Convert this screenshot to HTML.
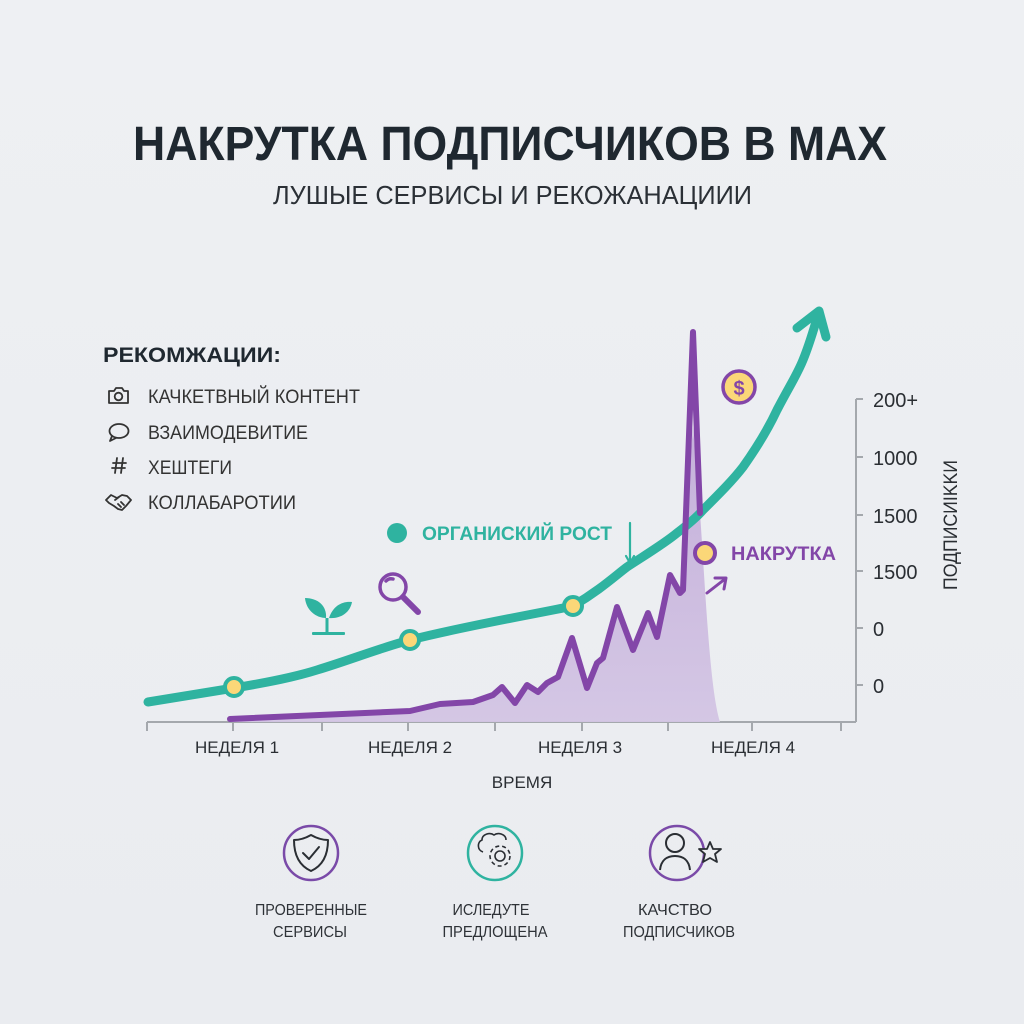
<!DOCTYPE html>
<html><head><meta charset="utf-8"><style>
html,body{margin:0;padding:0;background:#eceef1;}
svg{display:block;}
text{font-family:"Liberation Sans","Noto Sans CJK SC",sans-serif;}
</style></head><body>
<svg width="1024" height="1024" viewBox="0 0 1024 1024" xmlns="http://www.w3.org/2000/svg">
<defs>
<linearGradient id="bg" x1="0" y1="0" x2="0" y2="1"><stop offset="0" stop-color="#eef0f3"/><stop offset="1" stop-color="#eaecf0"/></linearGradient>
<linearGradient id="pf" x1="0" y1="0" x2="0" y2="1"><stop offset="0" stop-color="#c3add9"/><stop offset="1" stop-color="#d3c5e4"/></linearGradient>
</defs>
<rect width="1024" height="1024" fill="url(#bg)"/>

<!-- Title -->
<text x="133" y="160" font-size="48" font-weight="bold" fill="#1f2830" textLength="754" lengthAdjust="spacingAndGlyphs">НАКРУТКА ПОДПИСЧИКОВ В MAX</text>
<text x="273" y="204" font-size="26" fill="#2b3036" textLength="479" lengthAdjust="spacingAndGlyphs">ЛУШЫЕ СЕРВИСЫ И РЕКОЖАНАЦИИИ</text>

<!-- Recommendations -->
<text x="103" y="362" font-size="21" font-weight="bold" fill="#1f2830" textLength="178" lengthAdjust="spacingAndGlyphs">РЕКОМЖАЦИИ:</text>
<g fill="#333" font-size="19">
<text x="148" y="403" textLength="212" lengthAdjust="spacingAndGlyphs">КАЧКЕТВНЫЙ КОНТЕНТ</text>
<text x="148" y="439" textLength="160" lengthAdjust="spacingAndGlyphs">ВЗАИМОДЕВИТИЕ</text>
<text x="148" y="474" textLength="84" lengthAdjust="spacingAndGlyphs">ХЕШТЕГИ</text>
<text x="148" y="509" textLength="148" lengthAdjust="spacingAndGlyphs">КОЛЛАБАРОТИИ</text>
</g>
<!-- list icons -->
<g fill="none" stroke="#333" stroke-width="1.8" stroke-linejoin="round" stroke-linecap="round">
<path d="M109 391 h5 l2 -3 h6 l2 3 h4 v12 h-19 z"/>
<circle cx="118.5" cy="396.5" r="3.8"/>
<ellipse cx="119" cy="431" rx="9.5" ry="7"/>
<path d="M112 436 l-2 5 l6 -3"/>
<path d="M117 458 l-2 15 M123 458 l-2 15 M113 463 h13 M112 468 h13"/>
<path d="M106 500 l5 -5 l6 3 l5 -3 l5 1 l4 4 l-5 6 l-4 4 l-4 -1 l-4 -3 l-5 -3 z M115 500 l4 -3 M118 504 l3 3 M121 502 l3 3"/>
</g>

<!-- Axes -->
<g stroke="#a4a8ad" stroke-width="2" fill="none">
<line x1="147" y1="722" x2="856" y2="722"/>
<line x1="856" y1="399" x2="856" y2="722"/>
<path d="M147 722 v9 M233 722 v9 M322 722 v9 M408 722 v9 M495 722 v9 M582 722 v9 M668 722 v9 M752 722 v9 M841 722 v9"/>
<path d="M856 399 h7 M856 457 h7 M856 515 h7 M856 571 h7 M856 628 h7 M856 685 h7"/>
</g>
<g fill="#2a2e33" font-size="20">
<text x="873" y="407">200+</text>
<text x="873" y="465">1000</text>
<text x="873" y="523">1500</text>
<text x="873" y="579">1500</text>
<text x="873" y="636">0</text>
<text x="873" y="693">0</text>
</g>
<text transform="translate(957,525) rotate(-90)" text-anchor="middle" font-size="19" fill="#2a2e33" textLength="130" lengthAdjust="spacingAndGlyphs">ПОДПИСИIKKИ</text>
<g fill="#2a2e33" font-size="17" text-anchor="middle">
<text x="237" y="753">НЕДЕЛЯ 1</text>
<text x="410" y="753">НЕДЕЛЯ 2</text>
<text x="580" y="753">НЕДЕЛЯ 3</text>
<text x="753" y="753">НЕДЕЛЯ 4</text>
<text x="522" y="788">ВРЕМЯ</text>
</g>

<!-- Purple fill -->
<path d="M230 720 L410 711 L440 704 L473 702 L493 695 L502 687 L515 703 L527 685 L538 692 L547 683 L558 677 L572 638 L587 688 L597 663 L603 658 L617 607 L633 650 L648 613 L657 637 L670 575 L680 593 L693 427 L700 513 C706 600 710 690 720 722 L230 722 Z" fill="url(#pf)" opacity="0.95"/>

<!-- Teal curve -->
<path d="M148 702 L234 688 C270 682 295 677 317 670 C350 660 380 648 410 640 C470 625 530 615 573 606 C600 590 615 576 627 567 C650 552 665 543 677 533 C690 523 697 517 703 510 C720 493 733 480 743 467 C760 443 770 425 777 410 C790 385 797 375 803 360 C810 343 814 328 818 315" fill="none" stroke="#2fb3a0" stroke-width="9" stroke-linecap="round" stroke-linejoin="round"/>
<path d="M797 328 L819 311 L826 337" fill="none" stroke="#2fb3a0" stroke-width="9" stroke-linecap="round" stroke-linejoin="round"/>

<!-- Purple line -->
<path d="M230 719 L410 711 L440 704 L473 702 L493 695 L502 687 L515 703 L527 685 L538 692 L547 683 L558 677 L572 638 L587 688 L597 663 L603 658 L617 607 L633 650 L648 613 L657 637 L670 575 L680 593 L683 590 L693 332 L700 513" fill="none" stroke="#8346a8" stroke-width="6" stroke-linecap="round" stroke-linejoin="round"/>

<!-- markers -->
<g stroke="#2fb3a0" stroke-width="4" fill="#fbd778">
<circle cx="234" cy="687" r="9"/>
<circle cx="410" cy="640" r="9"/>
<circle cx="573" cy="606" r="9"/>
</g>
<circle cx="705" cy="553" r="10" fill="#fbd778" stroke="#8346a8" stroke-width="4"/>

<!-- labels -->
<circle cx="397" cy="533" r="10" fill="#2fb3a0"/>
<text x="422" y="540" font-size="19" font-weight="bold" fill="#2fb3a0" textLength="190" lengthAdjust="spacingAndGlyphs">ОРГАНИСКИЙ РОСТ</text>
<path d="M630 523 V562 M626 556 L630 563 L634 556" fill="none" stroke="#2fb3a0" stroke-width="2.2" stroke-linecap="round"/>
<text x="731" y="560" font-size="19" font-weight="bold" fill="#8346a8" textLength="105" lengthAdjust="spacingAndGlyphs">НАКРУТКА</text>
<path d="M707 593 L725 579 M715 578 L726 578 L724 589" fill="none" stroke="#8346a8" stroke-width="3" stroke-linecap="round" stroke-linejoin="round"/>

<!-- dollar -->
<circle cx="739" cy="387" r="16" fill="#fbd778" stroke="#8346a8" stroke-width="3.5"/>
<text x="739" y="395" text-anchor="middle" font-size="20" font-weight="bold" fill="#8346a8">$</text>

<!-- plant -->
<g fill="#2fb3a0">
<path d="M327 633 V618" stroke="#2fb3a0" stroke-width="3" fill="none"/>
<path d="M326 618 C316 618 306 610 305 598 C318 598 327 606 326 618 Z"/>
<path d="M329 618 C333 606 342 601 352 602 C350 613 340 619 329 618 Z"/>
<rect x="312" y="632" width="33" height="3" rx="1"/>
</g>
<!-- magnifier -->
<g fill="none" stroke="#8346a8" stroke-width="3.5" stroke-linecap="round">
<circle cx="393" cy="587" r="13"/>
<path d="M386 581 a7 7 0 0 1 7 -2"/>
<path d="M403 597 L418 612" stroke-width="6"/>
</g>

<!-- bottom icons -->
<circle cx="311" cy="853" r="27" fill="none" stroke="#7a4aa8" stroke-width="2.5"/>
<path d="M311 835 C318 839 323 840 328 840 C328 856 322 866 311 871 C300 866 294 856 294 840 C299 840 304 839 311 835 Z" fill="none" stroke="#2a2e33" stroke-width="2" stroke-linejoin="round"/>
<path d="M303 853 L309 859 L319 847" fill="none" stroke="#2a2e33" stroke-width="2" stroke-linecap="round" stroke-linejoin="round"/>

<circle cx="495" cy="853" r="27" fill="none" stroke="#2fb3a0" stroke-width="2.5"/>
<path d="M483 852 C477 850 477 842 482 840 C482 834 490 832 494 835 C498 832 506 834 506 840" fill="none" stroke="#2a2e33" stroke-width="1.6"/>
<circle cx="500" cy="856" r="5" fill="none" stroke="#2a2e33" stroke-width="1.6"/>
<circle cx="500" cy="856" r="10" fill="none" stroke="#2a2e33" stroke-width="1.6" stroke-dasharray="4 3"/>

<circle cx="677" cy="853" r="27" fill="none" stroke="#7a4aa8" stroke-width="2.5"/>
<circle cx="675" cy="843" r="9" fill="none" stroke="#2a2e33" stroke-width="2"/>
<path d="M660 870 C661 860 667 856 675 856 C683 856 689 860 690 870" fill="none" stroke="#2a2e33" stroke-width="2"/>
<path d="M710 842 L713 849 L721 849 L715 854 L717 862 L710 858 L703 862 L705 854 L699 849 L707 849 Z" fill="#eceef1" stroke="#2a2e33" stroke-width="1.8" stroke-linejoin="round"/>

<g fill="#2e3237" font-size="16" text-anchor="middle">
<text x="311" y="915" textLength="112" lengthAdjust="spacingAndGlyphs">ПРОВЕРЕННЫЕ</text>
<text x="310" y="937" textLength="74" lengthAdjust="spacingAndGlyphs">СЕРВИСЫ</text>
<text x="491" y="915" textLength="77" lengthAdjust="spacingAndGlyphs">ИСЛЕДУТЕ</text>
<text x="495" y="937" textLength="105" lengthAdjust="spacingAndGlyphs">ПРЕДЛОЩЕНА</text>
<text x="675" y="915" textLength="74" lengthAdjust="spacingAndGlyphs">КАЧСТВО</text>
<text x="679" y="937" textLength="112" lengthAdjust="spacingAndGlyphs">ПОДПИСЧИКОВ</text>
</g>
</svg>
</body></html>
